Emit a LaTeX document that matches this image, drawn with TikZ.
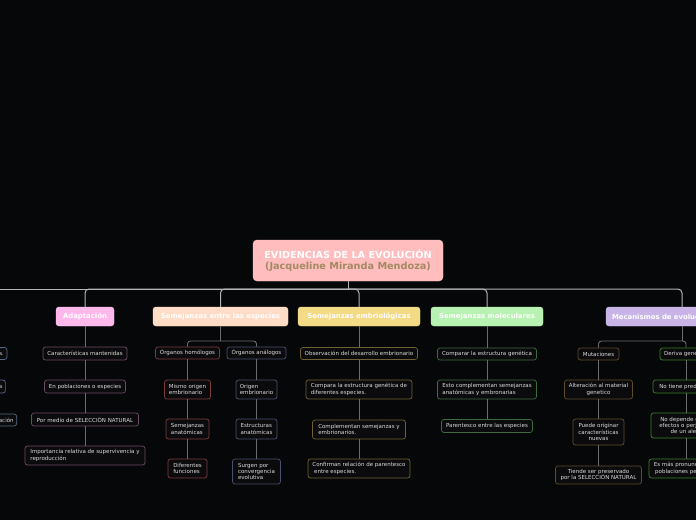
\documentclass[tikz,border=0pt]{standalone}
\usepackage{fontspec}
\setmainfont{DejaVu Sans}
\definecolor{bg}{HTML}{060709}
\definecolor{leaffill}{HTML}{0B0B0D}
\definecolor{leaftext}{HTML}{DCDCDC}
\definecolor{rootfill}{HTML}{FFBDBD}
\definecolor{rootsub}{HTML}{A38A64}
\definecolor{adfill}{HTML}{FFB8EC}
\definecolor{sefill}{HTML}{FFDCC6}
\definecolor{emfill}{HTML}{F3DA84}
\definecolor{mofill}{HTML}{B8F2B2}
\definecolor{mefill}{HTML}{C8B4E6}
\definecolor{adbd}{HTML}{6E4B66}
\definecolor{lfbd}{HTML}{5A6B85}
\definecolor{hombd}{HTML}{7A3C3C}
\definecolor{anabd}{HTML}{4B5070}
\definecolor{embd}{HTML}{6F6232}
\definecolor{mobd}{HTML}{3F6B42}
\definecolor{mutbd}{HTML}{5F4C30}
\definecolor{derbd}{HTML}{3E7E2C}
\definecolor{mainln}{HTML}{B4B4B4}
\definecolor{subln}{HTML}{6C6C6C}
\begin{document}
\begin{tikzpicture}[x=1pt,y=-1pt,
  sz/.style 2 args={minimum width=#1pt, minimum height=#2pt},
  rootbox/.style={fill=rootfill, draw=rootfill!80!white, rounded corners=4pt, text=white,
    font=\fontsize{9.7}{11}\selectfont\bfseries, align=center, inner sep=3pt},
  lvl/.style={fill=#1, draw=#1!85!white, rounded corners=3pt, text=white,
    font=\fontsize{6.9}{8}\selectfont\bfseries, inner xsep=6pt, inner ysep=2pt},
  leaf/.style={draw=#1, fill=leaffill, rounded corners=2.5pt, line width=0.7pt, text=leaftext,
    font=\fontsize{5.5}{6.4}\selectfont, inner xsep=2pt, inner ysep=2pt, align=left},
  cleaf/.style={leaf=#1, align=center},
  mainc/.style={draw=mainln, line width=1pt},
  subc/.style={draw=subln, line width=0.9pt}
]
\fill[bg] (0,0) rectangle (696,520);
\clip (0,0) rectangle (696,520);

% root
\node[rootbox, sz={190}{41}] (root) at (348,260.5)
  {EVIDENCIAS DE LA EVOLUCIÓN\\\textcolor{rootsub}{(Jacqueline Miranda Mendoza)}};

% level 1
\node[lvl=adfill, sz={58}{19}] (adapt) at (85,316.5) {Adaptación};
\node[lvl=sefill, sz={135}{19}] (semesp) at (220.5,316.5) {Semejanzas entre las especies};
\node[lvl=emfill, sz={122}{19}] (embr) at (359,316.5) {Semejanzas embriológicas};
\node[lvl=mofill, sz={112}{19}] (molec) at (487,316.5) {Semejanzas moleculares};
\node[lvl=mefill, sz={152}{19}, text width=140pt, align=left] (mec) at (682,316.5) {Mecanismos de evolución};

% left (off-canvas) column
\node[leaf=lfbd, sz={60}{12}, anchor=east, text width=54pt, align=right] (l1) at (7.3,353.5) {s.};
\node[leaf=lfbd, sz={60}{13}, anchor=east, text width=54pt, align=right] (l2) at (5.7,386.5) {a};
\node[leaf=lfbd, sz={60}{12}, anchor=east, text width=54pt, align=right] (l3) at (17,420) {ación};

% Adaptacion
\node[leaf=adbd, sz={84}{13}] (a1) at (85,353.5) {Características mantenidas};
\node[leaf=adbd, sz={81}{13}] (a2) at (85,386.5) {En poblaciones o especies};
\node[leaf=adbd, sz={107}{13}] (a3) at (85,419.5) {Por medio de SELECCIÓN NATURAL};
\node[leaf=adbd, sz={120}{19}] (a4) at (85,455.5) {Importancia relativa de supervivencia y\\reproducción};

% Semejanzas entre las especies
\node[leaf=hombd, sz={64}{12}] (hom) at (187.5,353) {Órganos homólogos};
\node[leaf=anabd, sz={59}{12}] (ana) at (256.5,353) {Órganos análogos};
\node[leaf=hombd, sz={46}{19}] (h1) at (187.5,389.5) {Mismo origen\\embrionario};
\node[leaf=hombd, sz={43}{20}] (h2) at (187.5,429) {Semejanzas\\anatómicas};
\node[leaf=hombd, sz={39}{19}] (h3) at (187.5,468.5) {Diferentes\\funciones};
\node[leaf=anabd, sz={41}{19}] (n1) at (256.5,389.5) {Origen\\embrionario};
\node[leaf=anabd, sz={41}{20}] (n2) at (256.5,429) {Estructuras\\anatómicas};
\node[leaf=anabd, sz={48}{25}] (n3) at (256.5,471.5) {Surgen por\\convergencia\\evolutiva};

% Semejanzas embriologicas
\node[leaf=embd, sz={117}{12}] (e1) at (359,353.5) {Observación del desarrollo embrionario};
\node[leaf=embd, sz={106}{19}] (e2) at (359,389.5) {Compara la estructura genética de\\diferentes especies.};
\node[leaf=embd, sz={93}{19}] (e3) at (359,429.5) {Complementan semejanzas y\\embrionarios.};
\node[leaf=embd, sz={102}{19}] (e4) at (359,468.5) {Confirman relación de parentesco\\\ entre especies.};

% Semejanzas moleculares
\node[leaf=mobd, sz={99}{12}] (m1) at (487,354) {Comparar la estructura genética};
\node[leaf=mobd, sz={99}{19}] (m2) at (487,389.5) {Esto complementan semejanzas\\anatómicas y embronarias};
\node[leaf=mobd, sz={91}{13}] (m3) at (487,426) {Parentesco entre las especies};

% Mecanismos de evolucion
\node[cleaf=mutbd, sz={41}{12}] (mut) at (598.5,354) {Mutaciones};
\node[cleaf=mutbd, sz={68}{19}] (u2) at (598.5,389.5) {Alteración al material\\genetico};
\node[cleaf=mutbd, sz={51}{26}] (u3) at (598.5,432) {Puede originar\\características\\nuevas};
\node[cleaf=mutbd, sz={86}{18}] (u4) at (598.5,475) {Tiende ser preservado\\por la SELECCIÓN NATURAL};
\node[cleaf=derbd, sz={52}{12}] (der) at (686,354) {Deriva genética};
\node[cleaf=derbd, sz={66}{13}] (d2) at (686,386.5) {No tiene predicción};
\node[cleaf=derbd, sz={70}{25}] (d3) at (686,425.5) {No depende de los\\efectos o perjuicios\\de un alelo};
\node[cleaf=derbd, sz={74}{19}] (d4) at (686,468.5) {Es más pronunciada en\\poblaciones pequeñas};

% connectors: root to level 1
\coordinate (bus) at (348,289);
\coordinate (leftstub) at (-20,289);
\draw[mainc] (root.south) -- (bus);
\draw[mainc] (bus) -- (leftstub);
\draw[mainc, rounded corners=4pt] (bus) -| (adapt.north);
\draw[mainc, rounded corners=4pt] (bus) -| (semesp.north);
\draw[mainc, rounded corners=4pt] (bus) -| (embr.north);
\draw[mainc, rounded corners=4pt] (bus) -| (molec.north);
\draw[mainc, rounded corners=4pt] (bus) -| (mec.north);

% Adaptacion column
\draw[subc] (adapt.south) -- (a1.north);
\draw[subc] (a1.south) -- (a2.north);
\draw[subc] (a2.south) -- (a3.north);
\draw[subc] (a3.south) -- (a4.north);

% Semejanzas entre
\coordinate (sbus) at (220.5,341);
\draw[subc] (semesp.south) -- (sbus);
\draw[subc, rounded corners=3pt] (sbus) -| (hom.north);
\draw[subc, rounded corners=3pt] (sbus) -| (ana.north);
\draw[subc] (hom.south) -- (h1.north);
\draw[subc] (h1.south) -- (h2.north);
\draw[subc] (h2.south) -- (h3.north);
\draw[subc] (ana.south) -- (n1.north);
\draw[subc] (n1.south) -- (n2.north);
\draw[subc] (n2.south) -- (n3.north);

% embriologicas
\draw[subc] (embr.south) -- (e1.north);
\draw[subc] (e1.south) -- (e2.north);
\draw[subc] (e2.south) -- (e3.north);
\draw[subc] (e3.south) -- (e4.north);

% moleculares
\draw[subc] (molec.south) -- (m1.north);
\draw[subc] (m1.south) -- (m2.north);
\draw[subc] (m2.south) -- (m3.north);

% mecanismos
\coordinate (mbus) at (682,341);
\draw[subc] (mec.south) -- (mbus);
\draw[subc, rounded corners=3pt] (mbus) -| (mut.north);
\draw[subc, rounded corners=3pt] (mbus) -| (der.north);
\draw[subc] (mut.south) -- (u2.north);
\draw[subc] (u2.south) -- (u3.north);
\draw[subc] (u3.south) -- (u4.north);
\draw[subc] (der.south) -- (d2.north);
\draw[subc] (d2.south) -- (d3.north);
\draw[subc] (d3.south) -- (d4.north);
\end{tikzpicture}
\end{document}
